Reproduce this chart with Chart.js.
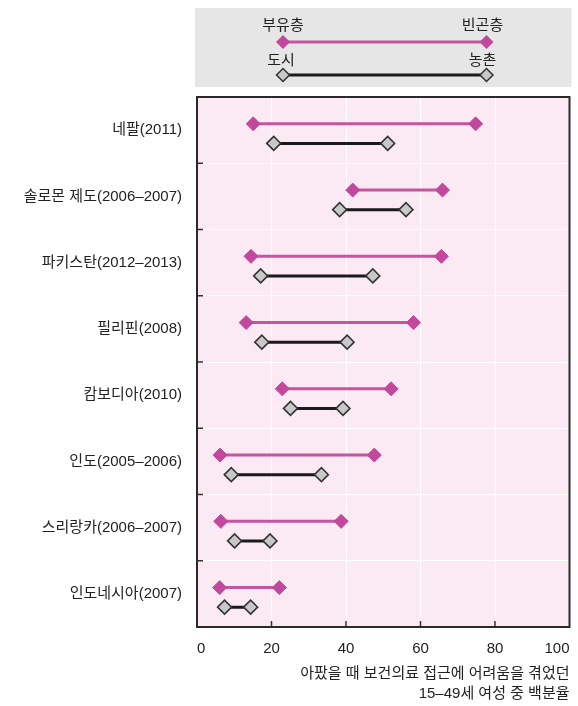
<!DOCTYPE html>
<html>
<head>
<meta charset="utf-8">
<script src="https://cdn.jsdelivr.net/npm/chart.js@4"></script>
<style>
body { margin: 0; background: #fff; }
#wrap { width: 578px; height: 706px; }
</style>
</head>
<body>
<div id="wrap"><canvas id="dumbbell"></canvas></div>
<script>
// categories, top to bottom
const countries = [
    '네팔(2011)',
    '솔로몬 제도(2006–2007)',
    '파키스탄(2012–2013)',
    '필리핀(2008)',
    '캄보디아(2010)',
    '인도(2005–2006)',
    '스리랑카(2006–2007)',
    '인도네시아(2007)',
];

// % of women 15-49 who had trouble getting health care when sick
const richest = [15.1, 41.8, 14.5, 13.2, 22.9, 6.2, 6.4, 6.1];
const poorest = [74.8, 65.9, 65.6, 58.1, 52.1, 47.6, 38.7, 22.1];
const urban = [20.6, 38.3, 17.1, 17.4, 25.1, 9.2, 10.1, 7.4];
const rural = [51.2, 56.1, 47.2, 40.3, 39.2, 33.4, 19.6, 14.4];

const xTicks = [0, 20, 40, 60, 80, 100];
const legendTop = ['부유층', '빈곤층'];
const legendBottom = ['도시', '농촌'];
const xTitle = ['아팠을 때 보건의료 접근에 어려움을 겪었던', '15–49세 여성 중 백분율'];

const MAGENTA = '#c2489e';
const MAG_LINE = '#c4559f';
const GREY = '#c8c8c8';
const DARK = '#222';
const FONT = '"Liberation Sans", "Noto Sans CJK KR", sans-serif';

function diamond(ctx, x, y, r, fill, stroke) {
    ctx.beginPath();
    ctx.moveTo(x - r, y);
    ctx.lineTo(x, y - r);
    ctx.lineTo(x + r, y);
    ctx.lineTo(x, y + r);
    ctx.closePath();
    ctx.fillStyle = fill;
    ctx.fill();
    if (stroke) {
        ctx.lineWidth = 1.5;
        ctx.strokeStyle = stroke;
        ctx.stroke();
    }
}

const datasets = [];
countries.forEach((c, i) => {
    datasets.push({
        data: [{x: richest[i], y: i + 0.405}, {x: poorest[i], y: i + 0.405}],
        yAxisID: 'yv',
        showLine: true,
        borderColor: MAG_LINE,
        borderWidth: 3,
        pointStyle: 'rectRot',
        pointRadius: 7,
        pointBackgroundColor: MAGENTA,
        pointBorderColor: MAGENTA,
        pointBorderWidth: 1,
    });
    datasets.push({
        data: [{x: urban[i], y: i + 0.7}, {x: rural[i], y: i + 0.7}],
        yAxisID: 'yv',
        showLine: true,
        borderColor: '#1a1a1a',
        borderWidth: 3,
        pointStyle: 'rectRot',
        pointRadius: 7,
        pointBackgroundColor: GREY,
        pointBorderColor: '#333',
        pointBorderWidth: 1.5,
    });
});

// background, frame, inner tick marks and the key box
const decor = {
    id: 'decor',
    beforeDraw(chart) {
        const {ctx, chartArea: a} = chart;
        ctx.save();
        ctx.fillStyle = '#fbeaf4';
        ctx.fillRect(a.left, a.top, a.width, a.height);

        // key box
        ctx.fillStyle = '#e6e6e6';
        ctx.fillRect(a.left - 2, 8, a.width + 4, 79);
        const x1 = a.left + 86, x2 = a.right - 83;
        ctx.font = '15px ' + FONT;
        ctx.fillStyle = DARK;
        ctx.textAlign = 'center';
        ctx.textBaseline = 'middle';
        ctx.fillText(legendTop[0], x1, 26);
        ctx.fillText(legendTop[1], x2 - 4, 26);
        ctx.fillText(legendBottom[0], x1 - 2, 61);
        ctx.fillText(legendBottom[1], x2 - 4, 61);

        ctx.strokeStyle = MAG_LINE;
        ctx.lineWidth = 3;
        ctx.beginPath(); ctx.moveTo(x1, 42); ctx.lineTo(x2, 42); ctx.stroke();
        diamond(ctx, x1, 42, 7, MAGENTA);
        diamond(ctx, x2, 42, 7, MAGENTA);

        ctx.strokeStyle = '#1a1a1a';
        ctx.lineWidth = 3;
        ctx.beginPath(); ctx.moveTo(x1, 75); ctx.lineTo(x2, 75); ctx.stroke();
        diamond(ctx, x1, 75, 6.5, GREY, '#333');
        diamond(ctx, x2, 75, 6.5, GREY, '#333');
        ctx.restore();
    },
    beforeDatasetsDraw(chart) {
        const {ctx, chartArea: a, scales} = chart;
        ctx.save();
        ctx.strokeStyle = '#333';
        ctx.lineWidth = 1.5;
        for (let i = 1; i < countries.length; i++) {
            const y = scales.yv.getPixelForValue(i);
            ctx.beginPath(); ctx.moveTo(a.left, y); ctx.lineTo(a.left + 6, y); ctx.stroke();
        }
        xTicks.slice(1, -1).forEach(v => {
            const x = scales.x.getPixelForValue(v);
            ctx.beginPath(); ctx.moveTo(x, a.bottom); ctx.lineTo(x, a.bottom - 6); ctx.stroke();
        });
        ctx.lineWidth = 2;
        ctx.strokeStyle = '#2a2a2a';
        ctx.strokeRect(a.left, a.top, a.width, a.height);
        ctx.restore();
    }
};

const ctx = document.getElementById('dumbbell').getContext('2d');

const myChart = new Chart(ctx, {
    type: 'scatter',
    data: {datasets: datasets},
    options: {
        responsive: true,
        maintainAspectRatio: false,
        animation: false,
        events: [],
        layout: {padding: {top: 97, right: 8, bottom: 0, left: 0}},
        plugins: {legend: {display: false}, tooltip: {enabled: false}},
        scales: {
            x: {
                type: 'linear',
                min: 0,
                max: 100,
                afterBuildTicks: s => { s.ticks = xTicks.map(v => ({value: v})); },
                afterFit: s => { s.height = 79; s.paddingLeft = 0; s.paddingRight = 0; },
                grid: {color: '#ffffff', lineWidth: 1, drawTicks: false},
                border: {display: false},
                ticks: {color: DARK, font: {size: 15, family: FONT}, padding: 13, align: 'inner'},
                title: {
                    display: true,
                    text: xTitle,
                    align: 'end',
                    color: DARK,
                    font: {size: 15, family: FONT, lineHeight: 1.33},
                    padding: {top: 0, bottom: 2}
                }
            },
            y: {
                type: 'category',
                labels: countries,
                offset: true,
                afterFit: s => { s.width = 197; },
                grid: {offset: true, color: '#ffffff', lineWidth: 1, drawTicks: false},
                border: {display: false},
                ticks: {color: DARK, font: {size: 15, family: FONT}, padding: 15}
            },
            yv: {
                type: 'linear',
                min: 0,
                max: 8,
                reverse: true,
                display: false
            }
        }
    },
    plugins: [decor]
});
</script>
</body>
</html>
